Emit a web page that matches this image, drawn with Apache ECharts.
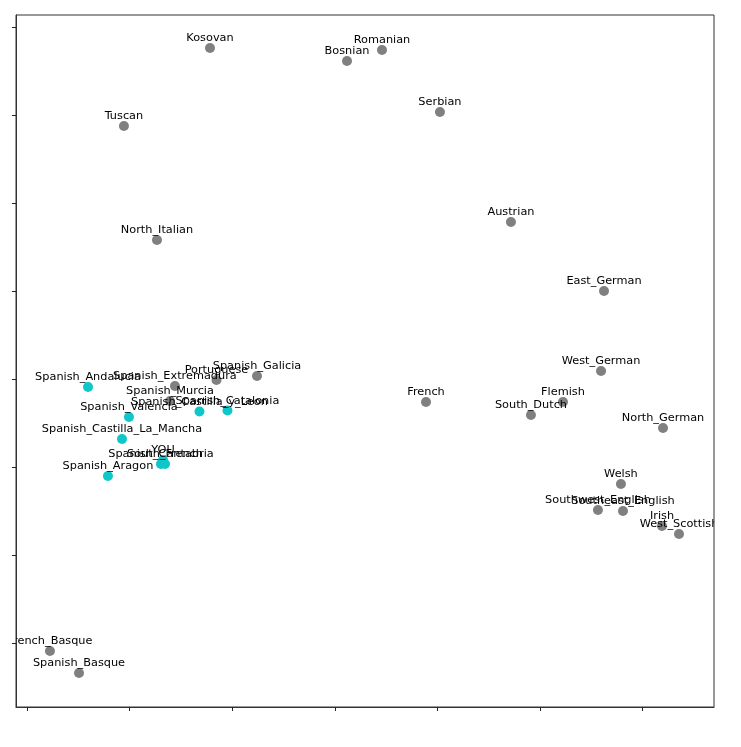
<!DOCTYPE html>
<html>
<head>
<meta charset="utf-8">
<script src="https://cdn.jsdelivr.net/npm/echarts@6/dist/echarts.min.js"></script>
<style>
  html, body { margin: 0; padding: 0; background: #fff; }
  #chart { width: 741px; height: 747px; }
</style>
</head>
<body>
<div id="chart"></div>
<script>
// Gray group
const grayNames = ['Kosovan','Bosnian','Romanian','Tuscan','Serbian','Austrian','North_Italian','East_German','West_German',
  'Spanish_Galicia','Portuguese','Spanish_Extremadura','Spanish_Murcia','French','South_Dutch','Flemish','North_German',
  'Welsh','Southwest_English','Southeast_English','Irish','West_Scottish','French_Basque','Spanish_Basque'];
const grayX = [1.784, 3.119, 3.460, 0.945, 4.025, 4.717, 1.267, 5.624, 5.595,
  2.242, 1.847, 1.442, 1.394, 3.889, 4.912, 5.224, 6.199,
  5.789, 5.565, 5.809, 6.189, 6.355, 0.224, 0.507];
const grayY = [6.766, 6.618, 6.743, 5.880, 6.039, 4.789, 4.585, 4.006, 3.097,
  3.040, 2.995, 2.927, 2.756, 2.745, 2.597, 2.745, 2.450,
  1.814, 1.518, 1.507, 1.337, 1.246, -0.083, -0.333];

// Cyan group
const cyanNames = ['YOU','Spanish_Andalucia','Spanish_Valencia','Spanish_Castilla_y_Leon','Spanish_Catalonia',
  'Spanish_Castilla_La_Mancha','Spanish_Aragon','Spanish_Cantabria','South_French'];
const cyanX = [1.326, 0.595, 0.994, 1.681, 1.954, 0.926, 0.789, 1.306, 1.345];
const cyanY = [2.086, 2.915, 2.575, 2.637, 2.648, 2.325, 1.905, 2.041, 2.041];

// Axis ticks (no labels shown)
const xTicks = [0, 1, 2, 3, 4, 5, 6];
const yTicks = [0, 1, 2, 3, 4, 5, 6, 7];
const xRange = [-0.107, 6.696];
const yRange = [-0.719, 7.140];

const grayData = grayNames.map((n, i) => [grayX[i], grayY[i], n]);
const cyanData = cyanNames.map((n, i) => [cyanX[i], cyanY[i], n]);
const labelData = grayData.concat(cyanData);

const chart = echarts.init(document.getElementById('chart'), null, { renderer: 'canvas' });
const axisCommon = {
  type: 'value',
  axisLine: { show: true, onZero: false, lineStyle: { color: '#333', width: 1 } },
  axisLabel: { show: false },
  splitLine: { show: false }
};
chart.setOption({
  animation: false,
  backgroundColor: '#fff',
  grid: { left: 16, right: 27, top: 15, bottom: 40, show: true, borderColor: '#333', borderWidth: 1, backgroundColor: 'transparent' },
  xAxis: Object.assign({}, axisCommon, {
    min: xRange[0], max: xRange[1],
    axisTick: { show: true, length: 4, customValues: xTicks, lineStyle: { color: '#222' } }
  }),
  yAxis: Object.assign({}, axisCommon, {
    min: yRange[0], max: yRange[1],
    axisTick: { show: true, length: 4, customValues: yTicks, lineStyle: { color: '#222' } }
  }),
  series: [
    {
      type: 'scatter', name: 'gray', data: grayData, symbolSize: 10, z: 2,
      itemStyle: { color: '#808080', opacity: 1 }
    },
    {
      type: 'scatter', name: 'cyan', data: cyanData, symbolSize: 10, z: 2,
      itemStyle: { color: '#0fc6c9', opacity: 1 }
    },
    {
      type: 'custom', name: 'labels', data: labelData, z: 5, clip: true,
      encode: { x: 0, y: 1 },
      renderItem: function (params, api) {
        const p = api.coord([api.value(0), api.value(1)]);
        return {
          type: 'text',
          x: p[0], y: p[1] - 9.5,
          style: {
            text: labelData[params.dataIndex][2],
            fill: '#000',
            fontSize: 11.3,
            fontFamily: 'DejaVu Sans',
            align: 'center',
            verticalAlign: 'middle'
          }
        };
      }
    }
  ]
});
</script>
</body>
</html>
